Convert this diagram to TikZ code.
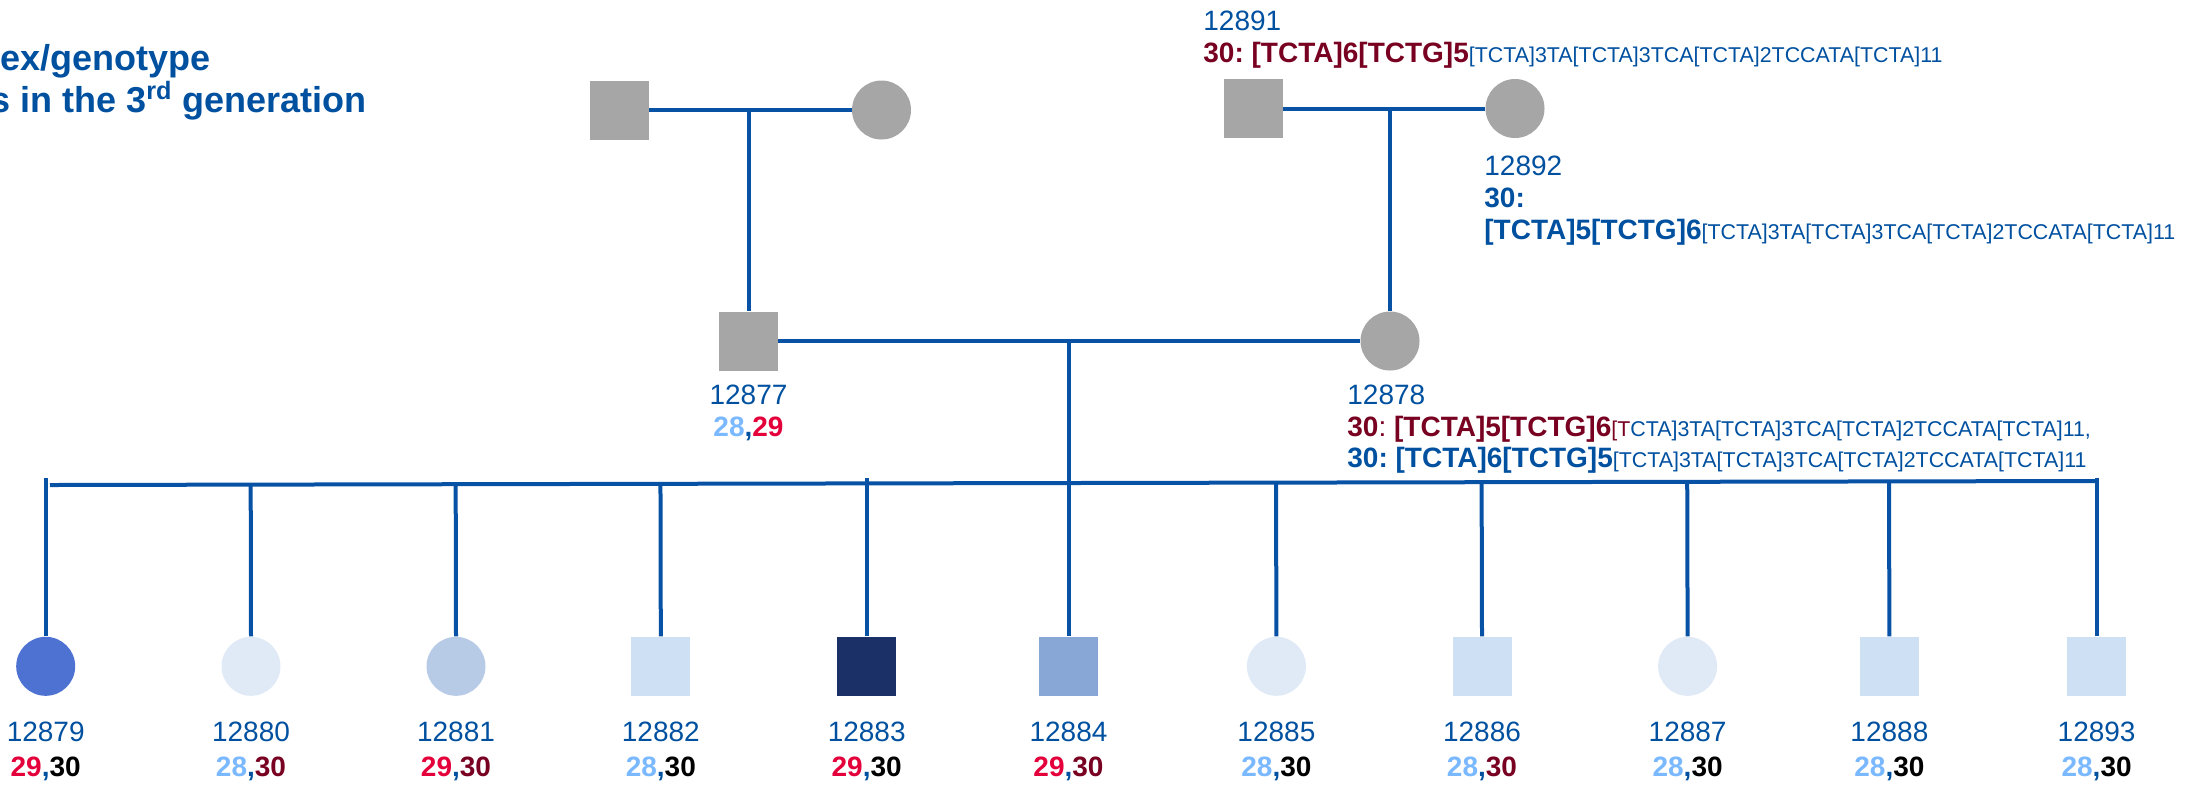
\documentclass[tikz,border=0pt]{standalone}
\usepackage{fontspec}
\setmainfont{Liberation Sans}
\usetikzlibrary{calc}
\definecolor{myblue}{RGB}{0,80,160}
\definecolor{lineblue}{RGB}{8,82,166}
\definecolor{maroon}{RGB}{120,0,32}
\definecolor{redgt}{RGB}{228,0,58}
\definecolor{lbgt}{RGB}{122,184,255}
\definecolor{pgray}{RGB}{166,166,166}
\definecolor{cA}{RGB}{78,114,210}
\definecolor{cB}{RGB}{224,234,246}
\definecolor{cC}{RGB}{183,203,230}
\definecolor{cD}{RGB}{206,224,244}
\definecolor{cE}{RGB}{28,48,104}
\definecolor{cF}{RGB}{136,167,214}
\newcommand\idfont{\fontsize{14}{16}\selectfont\frenchspacing}
\newcommand\seqfont{\fontsize{10.7}{12}\selectfont}
\newcommand\ttlfont{\fontsize{18}{20}\selectfont\bfseries}
\newcommand\seqrest{[TCTA]3TA[TCTA]3TCA[TCTA]2TCCATA[TCTA]11}
\newcommand\gtpair[4]{\textbf{{\color{#1}#2}{\color{myblue},}{\color{#3}#4}}}
\begin{document}
\frenchspacing
\begin{tikzpicture}[x=0.5pt,y=-0.5pt,
  ln/.style={draw=lineblue, line width=2pt},
  msq/.style={rectangle, minimum size=29.5pt, inner sep=0pt, draw=none},
  fem/.style={circle, minimum size=29.5pt, inner sep=0pt, draw=none},
  lab/.style={inner sep=0pt, text=myblue, font=\idfont},
  ttl/.style={inner sep=0pt, text=myblue, font=\ttlfont}]
\useasboundingbox (0,0) rectangle (2194,784);
\clip (0,0) rectangle (2194,784);

% title
\node[ttl, anchor=base west] (t1) at (0,70) {ex/genotype};
\node[ttl, anchor=base east] (t2) at (367,112) {s in the 3\textsuperscript{rd} generation};

% generation 1
\node[msq, fill=pgray] (g1) at (619.5,110) {};
\node[fem, fill=pgray] (g2) at (881.5,110) {};
\node[msq, fill=pgray] (g3) at (1253,108.5) {};
\node[fem, fill=pgray] (g4) at (1515,108.5) {};

% generation 2
\node[msq, fill=pgray] (p1) at (748.5,341) {};
\node[fem, fill=pgray] (p2) at (1390,341) {};

% children
\node[fem, fill=cA] (c1) at (45.7,666.3) {};
\node[fem, fill=cB] (c2) at (251,666.3) {};
\node[fem, fill=cC] (c3) at (456,666.3) {};
\node[msq, fill=cD] (c4) at (660.8,666.3) {};
\node[msq, fill=cE] (c5) at (866.7,666.3) {};
\node[msq, fill=cF] (c6) at (1068.5,666.3) {};
\node[fem, fill=cB] (c7) at (1276.4,666.3) {};
\node[msq, fill=cD] (c8) at (1482,666.3) {};
\node[fem, fill=cB] (c9) at (1687.6,666.3) {};
\node[msq, fill=cD] (c10) at (1889.4,666.3) {};
\node[msq, fill=cD] (c11) at (2096.6,666.3) {};

% connectors
\coordinate (d1) at (748.5,110);
\coordinate (d2) at (1390,108.5);
\coordinate (d3) at (1068.5,341);
\coordinate (sl) at (50,485);
\coordinate (sr) at (2095,481);
\coordinate (top) at (0,478);
\draw[ln] (g1.east) -- (g2.west);
\draw[ln] (d1) -- (d1 |- p1.north);
\draw[ln] (g3.east) -- (g4.west);
\draw[ln] (d2) -- (d2 |- p2.north);
\draw[ln] (p1.east) -- (p2.west);
\draw[ln] (d3) -- (c6.north);
\draw[ln] (sl) -- (sr);
\draw[ln] (c1.north) -- (c1.north |- top);
\draw[ln] (c5.north) -- (c5.north |- top);
\draw[ln] (c11.north) -- (c11.north |- top);
\foreach \c in {c2,c3,c4,c7,c8,c9,c10}
  \draw[ln] (\c.north) -- ($(sl)!(\c.north)!(sr)$);

% labels generation 1
\node[lab, anchor=base west] (l91) at (1203,30) {12891};
\node[lab, anchor=base west] (s91) at (1203,62) {{\bfseries\color{maroon}30: [TCTA]6[TCTG]5}{\seqfont\color{myblue}\seqrest}};
\node[lab, anchor=base west] (l92) at (1484,175) {12892};
\node[lab, anchor=base west] (s92a) at (1484,207) {\textbf{30:}};
\node[lab, anchor=base west] (s92b) at (1484,239) {\textbf{[TCTA]5[TCTG]6}{\seqfont\seqrest}};

% labels generation 2
\node[lab, anchor=base] (l77) at (748.5,404) {12877};
\node[lab, anchor=base] (s77) at (748.5,436) {\gtpair{lbgt}{28}{redgt}{29}};
\node[lab, anchor=base west] (l78) at (1347,404) {12878};
\node[lab, anchor=base west] (s78a) at (1347,436) {{\color{maroon}\textbf{30}:\textbf{ [TCTA]5[TCTG]6}{\seqfont [T}}{\seqfont\color{myblue}CTA]3TA[TCTA]3TCA[TCTA]2TCCATA[TCTA]11,}};
\node[lab, anchor=base west] (s78b) at (1347,467) {\textbf{30: [TCTA]6[TCTG]5}{\seqfont\seqrest}};

% labels children
\node[lab, anchor=base] (l1) at (45.7,741.7) {12879};
\node[lab, anchor=base] (l2) at (251,741.7) {12880};
\node[lab, anchor=base] (l3) at (456,741.7) {12881};
\node[lab, anchor=base] (l4) at (660.8,741.7) {12882};
\node[lab, anchor=base] (l5) at (866.7,741.7) {12883};
\node[lab, anchor=base] (l6) at (1068.5,741.7) {12884};
\node[lab, anchor=base] (l7) at (1276.4,741.7) {12885};
\node[lab, anchor=base] (l8) at (1482,741.7) {12886};
\node[lab, anchor=base] (l9) at (1687.6,741.7) {12887};
\node[lab, anchor=base] (l10) at (1889.4,741.7) {12888};
\node[lab, anchor=base] (l11) at (2096.6,741.7) {12893};

\node[lab, anchor=base] (q1) at (45.7,776.7) {\gtpair{redgt}{29}{black}{30}};
\node[lab, anchor=base] (q2) at (251,776.7) {\gtpair{lbgt}{28}{maroon}{30}};
\node[lab, anchor=base] (q3) at (456,776.7) {\gtpair{redgt}{29}{maroon}{30}};
\node[lab, anchor=base] (q4) at (660.8,776.7) {\gtpair{lbgt}{28}{black}{30}};
\node[lab, anchor=base] (q5) at (866.7,776.7) {\gtpair{redgt}{29}{black}{30}};
\node[lab, anchor=base] (q6) at (1068.5,776.7) {\gtpair{redgt}{29}{maroon}{30}};
\node[lab, anchor=base] (q7) at (1276.4,776.7) {\gtpair{lbgt}{28}{black}{30}};
\node[lab, anchor=base] (q8) at (1482,776.7) {\gtpair{lbgt}{28}{maroon}{30}};
\node[lab, anchor=base] (q9) at (1687.6,776.7) {\gtpair{lbgt}{28}{black}{30}};
\node[lab, anchor=base] (q10) at (1889.4,776.7) {\gtpair{lbgt}{28}{black}{30}};
\node[lab, anchor=base] (q11) at (2096.6,776.7) {\gtpair{lbgt}{28}{black}{30}};
\end{tikzpicture}
\end{document}
